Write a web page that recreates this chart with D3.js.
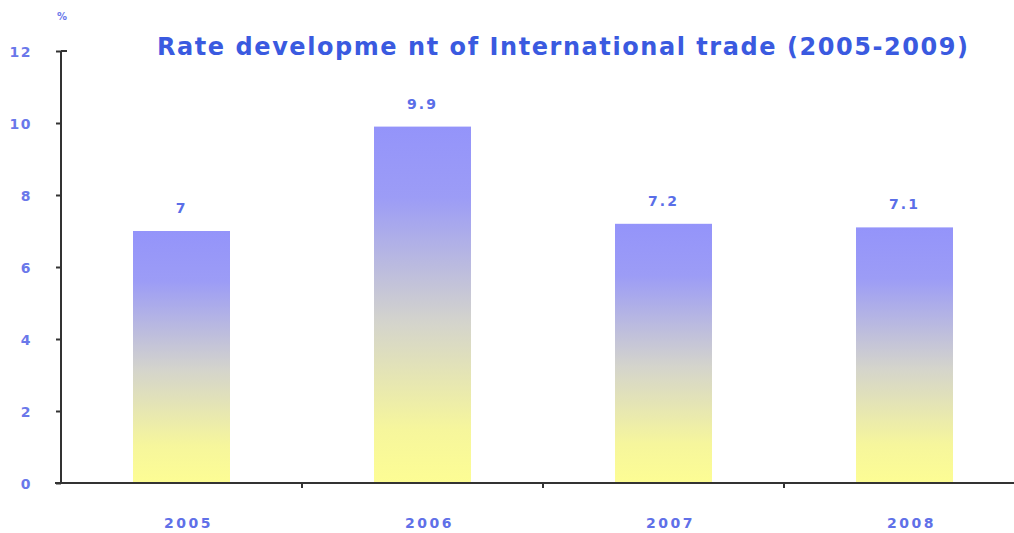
<!DOCTYPE html>
<html><head><meta charset="utf-8">
<script src="https://cdn.jsdelivr.net/npm/d3@7"></script>
<style>body{margin:0;background:#fff}svg{display:block}</style>
</head><body>
<script>
const categories = ["2005", "2006", "2007", "2008"];
const values = [7, 9.9, 7.2, 7.1];
const valueLabels = ["7", "9.9", "7.2", "7.1"];
const yTicks = [0, 2, 4, 6, 8, 10, 12];
const title = "Rate developme nt  of International trade (2005-2009)";

const W = 1014, H = 533;
const svg = d3.select("body").append("svg").attr("width", W).attr("height", H);
const x0 = 61, x1 = 1025, y0 = 483, y1 = 51;
const x = d3.scaleBand().domain(categories).range([x0, x1]).paddingInner(0).paddingOuter(0);
const y = d3.scaleLinear().domain([0, 12]).range([y0, y1]);
const barW = 97;
const font = "DejaVu Sans, Verdana, sans-serif";

const defs = svg.append("defs");
const g = defs.append("linearGradient").attr("id", "grad").attr("x1", 0).attr("y1", 0).attr("x2", 0).attr("y2", 1);
g.append("stop").attr("offset", "0%").attr("stop-color", "#9494fa");
g.append("stop").attr("offset", "20%").attr("stop-color", "#9c9cf6");
g.append("stop").attr("offset", "55%").attr("stop-color", "#d4d4cc");
g.append("stop").attr("offset", "85%").attr("stop-color", "#f6f69c");
g.append("stop").attr("offset", "100%").attr("stop-color", "#fdfd94");

svg.selectAll("rect.bar").data(values).enter().append("rect")
  .attr("x", (d, i) => x(categories[i]) + x.bandwidth() / 2 - barW / 2)
  .attr("y", d => y(d)).attr("width", barW).attr("height", d => y(0) - y(d))
  .attr("fill", "url(#grad)");

svg.selectAll("text.val").data(values).enter().append("text")
  .attr("x", (d, i) => x(categories[i]) + x.bandwidth() / 2)
  .attr("y", d => y(d) - 18)
  .attr("text-anchor", "middle").attr("font-family", font)
  .attr("font-weight", "bold").attr("font-size", 14).attr("fill", "#5a6ee8")
  .attr("letter-spacing", 2)
  .text((d, i) => valueLabels[i]);

// y axis
const yAxis = svg.append("g").attr("transform", `translate(${x0},0)`)
  .call(d3.axisLeft(y).tickValues(yTicks).tickSize(5).tickPadding(24).tickFormat(d3.format("d")));
yAxis.select(".domain").attr("stroke", "#333").attr("stroke-width", 2).attr("d", `M0,${y0}V${y1}M0,${y1}H6`);
yAxis.selectAll(".tick line").attr("stroke", "#333").attr("stroke-width", 2);
yAxis.selectAll(".tick text").attr("font-family", font)
  .attr("font-weight", "bold").attr("font-size", 14).attr("fill", "#6a78ea").attr("letter-spacing", 1.5)
  .attr("dy", "0.36em");

// x axis
const xAxis = svg.append("g").attr("transform", `translate(0,${y0})`);
xAxis.append("line").attr("x1", x0 - 6).attr("x2", W).attr("y1", 0).attr("y2", 0)
  .attr("stroke", "#333").attr("stroke-width", 2);
xAxis.selectAll("line.bt").data(categories.slice(1)).enter().append("line")
  .attr("x1", d => x(d)).attr("x2", d => x(d)).attr("y1", 0).attr("y2", 5)
  .attr("stroke", "#333").attr("stroke-width", 2);
xAxis.selectAll("text.cat").data(categories).enter().append("text")
  .attr("x", d => x(d) + x.bandwidth() / 2 + 7).attr("y", 45)
  .attr("text-anchor", "middle").attr("font-family", font)
  .attr("font-weight", "bold").attr("font-size", 14).attr("fill", "#6070e8").attr("letter-spacing", 2.5)
  .text(d => d);

svg.append("text").attr("x", 62).attr("y", 20).attr("text-anchor", "middle")
  .attr("font-family", font).attr("font-weight", "bold")
  .attr("font-size", 10).attr("fill", "#6a78ea").text("%");

svg.append("text").attr("x", 157).attr("y", 55)
  .attr("font-family", font).attr("font-weight", "bold")
  .attr("font-size", 24).attr("fill", "#3a5ae0")
  .attr("textLength", 811).attr("lengthAdjust", "spacing")
  .text(title);
</script>
</body></html>
